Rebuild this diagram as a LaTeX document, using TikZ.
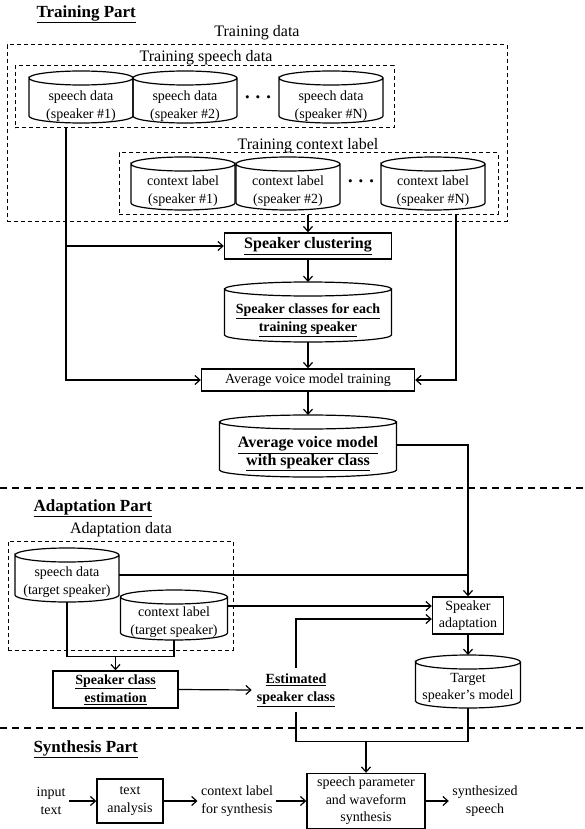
\documentclass[tikz,border=0pt]{standalone}
\usepackage{fontspec}
\setmainfont{Liberation Serif}
\usepackage{tikz}
\usetikzlibrary{arrows.meta}
\tikzset{
    linha/.style={line width=1.2pt},
    fluxo/.style={->, line width=1.2pt},
    caixa/.style={draw, line width=1.4pt, align=center, inner sep=2pt},
    banco/.style={align=center, inner sep=0pt},
    grupo/.style={draw, line width=1pt, dash pattern=on 4pt off 3pt},
    separa/.style={line width=1.2pt, dash pattern=on 7pt off 5pt},
    titulo/.style={anchor=west, font=\fontsize{17}{20}\selectfont\bfseries},
    rotulo/.style={font=\fontsize{16}{18}\selectfont},
    negrito/.style={align=center, font=\fontsize{14}{18}\selectfont\bfseries},
    pontos/.style={font=\fontsize{20}{20}\selectfont\boldmath}
}
\newcommand{\cilindro}[4]{%
    \draw[linha] ([shift={(-#2,-#3)}]#1.center) arc[start angle=180, end angle=-180, x radius=#2pt, y radius=7pt]
        -- ([shift={(-#2,#4)}]#1.center) arc[start angle=180, end angle=360, x radius=#2pt, y radius=7pt]
        -- ([shift={(#2,-#3)}]#1.center);
    \coordinate (#1-t) at ([shift={(0,-#3-7)}]#1.center);
    \coordinate (#1-b) at ([shift={(0,#4+7)}]#1.center);
}

\begin{document}
\begin{tikzpicture}[x=1pt, y=-1pt, font=\fontsize{14}{17.5}\selectfont, >={Straight Barb[length=5pt, width=9pt]}]
    \useasboundingbox (0,0) rectangle (584,829);

    \node[titulo] (ttr) at (33,14) {\underline{Training Part}};
    \node[rotulo] (ltd) at (257,33) {Training data};
    \node[grupo, minimum width=500pt, minimum height=176pt] (gtd) at (257,133) {};
    \node[rotulo] (lsp) at (206,58) {Training speech data};
    \node[grupo, minimum width=379pt, minimum height=62pt] (gsp) at (204.5,97) {};
    \node[banco, minimum width=104pt] (sd1) at (81,106) {speech data\\(speaker \#1)};
    \node[banco, minimum width=104pt] (sd2) at (185,106) {speech data\\(speaker \#2)};
    \node[banco, minimum width=104pt] (sdn) at (331,106) {speech data\\(speaker \#N)};
    \cilindro{sd1}{52}{28}{10}
    \cilindro{sd2}{52}{28}{10}
    \cilindro{sdn}{52}{28}{10}
    \node[pontos] (pt1) at (258,98) {$\cdots$};

    \node[rotulo] (lcl) at (308,146) {Training context label};
    \node[grupo, minimum width=379pt, minimum height=61pt] (gcl) at (308.5,183.5) {};
    \node[banco, minimum width=104pt] (cl1) at (183,191) {context label\\(speaker \#1)};
    \node[banco, minimum width=104pt] (cl2) at (288,191) {context label\\(speaker \#2)};
    \node[banco, minimum width=104pt] (cln) at (433,191) {context label\\(speaker \#N)};
    \cilindro{cl1}{52}{27}{12}
    \cilindro{cl2}{52}{27}{12}
    \cilindro{cln}{52}{27}{12}
    \node[pontos] (pt2) at (361,182) {$\cdots$};

    \node[caixa, minimum width=167pt, minimum height=26pt, font=\fontsize{16}{18}\selectfont\bfseries] (clu) at (308,246) {\underline{Speaker clustering}};
    \node[banco, negrito, minimum width=167pt] (scl) at (308,320) {\underline{Speaker classes for each}\\\underline{training speaker}};
    \cilindro{scl}{83.5}{31}{15}
    \node[caixa, minimum width=213pt, minimum height=22pt] (avt) at (308,380) {Average voice model training};
    \node[banco, minimum width=177pt, font=\fontsize{16}{18}\selectfont\bfseries] (avm) at (308,454) {\underline{Average voice model}\\\underline{with speaker class}};
    \cilindro{avm}{88.5}{32}{16}

    \coordinate (esq) at (66,246);
    \coordinate (dir) at (456,214);
    \draw[fluxo] (gcl.south -| clu.north) -- (clu.north);
    \draw[fluxo] (gsp.south -| esq) |- (avt.west);
    \draw[fluxo] (esq) -- (clu.west);
    \draw[fluxo] (gcl.south -| dir) |- (avt.east);
    \draw[fluxo] (clu.south) -- (scl-t);
    \draw[fluxo] (scl-b) -- (avt.north);
    \draw[fluxo] (avt.south) -- (avm-t);

    \draw[separa] (0,488) -- (584,488);

    \node[titulo] (tad) at (30,508) {\underline{Adaptation Part}};
    \node[rotulo] (lad) at (121,530) {Adaptation data};
    \node[grupo, minimum width=225pt, minimum height=109pt] (gad) at (120.5,595.5) {};
    \node[banco, minimum width=104pt] (spt) at (67,582) {speech data\\(target speaker)};
    \cilindro{spt}{52}{27}{13}
    \node[banco, minimum width=107pt] (ctt) at (174,622) {context label\\(target speaker)};
    \cilindro{ctt}{53.5}{25}{11}
    \node[caixa, minimum width=71pt, minimum height=37pt] (adp) at (468,615.5) {Speaker\\adaptation};
    \node[banco, minimum width=105pt] (tsm) at (468,688) {Target\\speaker’s model};
    \cilindro{tsm}{52.5}{26}{13}
    \node[caixa, negrito, minimum width=125pt, minimum height=37pt] (sce) at (115.5,689.5) {\underline{Speaker class}\\\underline{estimation}};
    \node[negrito, inner sep=5pt] (est) at (296,690) {\underline{Estimated}\\\underline{speaker class}};

    \draw[fluxo] ([yshift=9pt]avm.east) -| (adp.north);
    \draw[linha] ([yshift=7pt]spt.east) -- ([yshift=7pt]spt.east -| adp.north);
    \draw[fluxo] ([yshift=16pt]ctt.east) -- ([yshift=16pt]ctt.east -| adp.west);
    \draw[fluxo] (est.north) |- ([yshift=-3.5pt]adp.west);
    \draw[fluxo] (adp.south) -- (tsm-t);
    \coordinate (jun) at ([yshift=14pt]sce.north);
    \draw[linha] (spt-b) |- (jun) -| (ctt-b);
    \draw[fluxo] (jun) -- (sce.north);
    \draw[fluxo] (sce.east) -- (est.west);

    \draw[separa] (0,728) -- (584,728);

    \node[titulo] (tsi) at (30,749) {\underline{Synthesis Part}};
    \node[align=center] (inp) at (51,801) {input\\text};
    \node[caixa, minimum width=66pt, minimum height=44pt] (tan) at (130,801) {text\\analysis};
    \node[align=center] (csy) at (237,801) {context label\\for synthesis};
    \node[caixa, minimum width=118pt, minimum height=55pt] (sps) at (366,801) {speech parameter\\and waveform\\synthesis};
    \node[align=center] (syn) at (485,801) {synthesized\\speech};

    \coordinate (jsi) at ([yshift=31pt]sps.north);
    \draw[linha] (est.south) |- (jsi) -| (tsm-b);
    \draw[fluxo] (jsi) -- (sps.north);
    \draw[fluxo] (inp) -- (tan);
    \draw[fluxo] (tan) -- (csy);
    \draw[fluxo] (csy) -- (sps);
    \draw[fluxo] (sps) -- (syn);
\end{tikzpicture}
\end{document}
